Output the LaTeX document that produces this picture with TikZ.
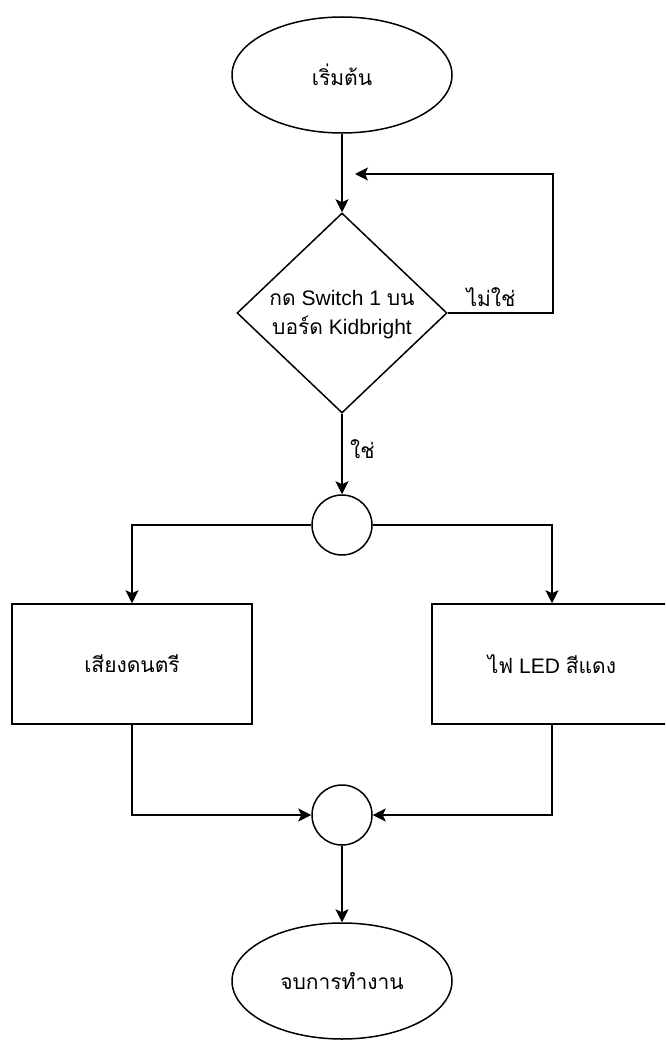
\documentclass[tikz,border=0pt]{standalone}
\usepackage{fontspec}
\setmainfont{Liberation Sans}
\newfontfamily\thai[Script=Thai]{Loma}
\usetikzlibrary{arrows.meta,shapes.geometric}
\tikzset{
  line/.style={line width=1.5pt, draw=black},
  arr/.style={line, -{Stealth[length=13pt,width=13pt,inset=3pt]}},
  term/.style={ellipse, draw, line width=1.5pt, minimum width=220pt, minimum height=116pt, inner sep=0pt},
  proc/.style={rectangle, draw, line width=1.5pt, minimum width=240pt, minimum height=120pt, inner sep=0pt},
  junc/.style={circle, draw, line width=1.5pt, minimum size=60pt, inner sep=0pt},
  decis/.style={diamond, draw, line width=1.5pt, minimum width=210pt, minimum height=200pt, inner sep=0pt},
  txt/.style={font=\fontsize{21}{29}\selectfont, text=black, align=center, inner sep=0pt},
}
\begin{document}
\begin{tikzpicture}[x=1pt,y=-1pt]
\useasboundingbox (0,0) rectangle (665,1040);
\clip (0,0) rectangle (665,1040);
\fill[white] (0,0) rectangle (665,1040);

\node[term, txt] (start) at (342,75) {\thai เริ่มต้น};
\node[decis] (dec) at (342,313) {};
\node[txt] (dectext) at (342,315) {{\thai กด} Switch 1 {\thai บน}\\{\thai บอร์ด} Kidbright};
\node[junc] (c1) at (342,525) {};
\node[proc, txt] (b1) at (132,664) {\thai เสียงดนตรี};
\node[proc, txt] (b2) at (552,664) {{\thai ไฟ} LED {\thai สีแดง}};
\node[junc] (c2) at (342,815) {};
\node[term, txt] (end) at (342,981) {\thai จบการทำงาน};

\coordinate (loopR) at (553,174);
\coordinate (loopin) at (355,174);

\draw[arr] (start.south) -- (dec.north);
\draw[arr] (dec.east) -| (loopR) -- (loopin);
\node[txt] (no) at (491,297) {\thai ไม่ใช่};
\draw[arr] (dec.south) -- (c1.north);
\node[txt, anchor=west] (yes) at (350,449) {\thai ใช่};
\draw[arr] (c1.west) -| (b1.north);
\draw[arr] (c1.east) -| (b2.north);
\draw[arr] (b1.south) |- (c2.west);
\draw[arr] (b2.south) |- (c2.east);
\draw[arr] (c2.south) -- (end.north);
\end{tikzpicture}
\end{document}
